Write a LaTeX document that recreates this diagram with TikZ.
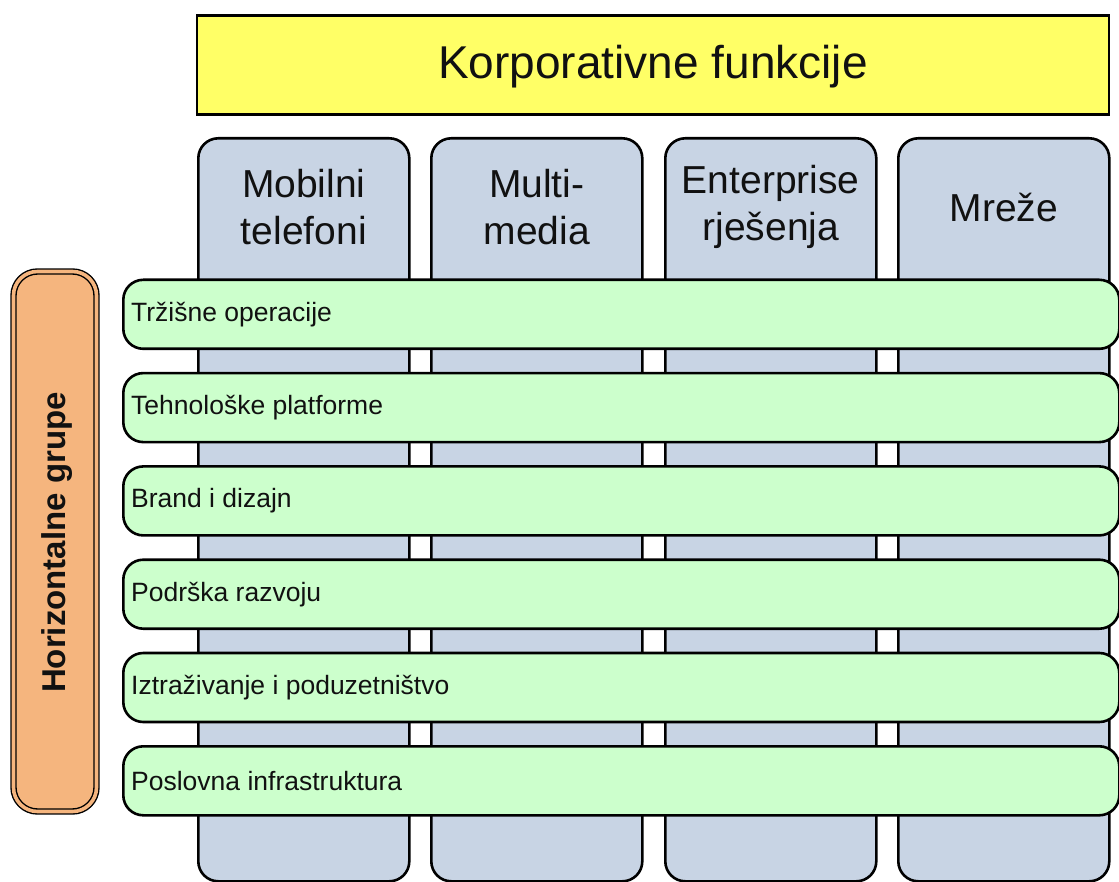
\documentclass[tikz,border=0pt]{standalone}
\usepackage{fontspec}
\setmainfont{Liberation Sans}
\definecolor{ttlyellow}{HTML}{FFFF66}
\definecolor{colblue}{HTML}{C8D4E4}
\definecolor{bargreen}{HTML}{CCFFCC}
\definecolor{grporange}{HTML}{F5B57E}
\definecolor{txtgray}{HTML}{111111}
\begin{document}
\begin{tikzpicture}[x=1pt,y=-1pt,
  titlebox/.style={draw=black, line width=2.6pt, fill=ttlyellow, minimum width=912pt, minimum height=99pt, inner sep=0pt},
  colbox/.style={draw=black, line width=2.6pt, fill=colblue, rounded corners=20pt, minimum width=211pt, minimum height=743pt, anchor=north west, inner sep=0pt},
  coltext/.style={align=center, text=txtgray, font=\fontsize{39}{47}\selectfont, inner sep=0pt},
  barbox/.style={draw=black, line width=2.6pt, fill=bargreen, rounded corners=20pt, minimum width=996pt, minimum height=69pt, anchor=north west, inner sep=0pt},
  bartext/.style={anchor=west, text=txtgray, font=\fontsize{26.5}{30}\selectfont, inner sep=0pt},
  grpbox/.style={draw=black, line width=1.4pt, double=grporange, double distance=3.6pt, fill=grporange, rounded corners=24pt, minimum width=83pt, minimum height=540pt, inner sep=0pt}
]
\useasboundingbox (0,0) rectangle (1119,882);
% title
\node[titlebox] (title) at (653,65) {};
\node[text=txtgray, font=\fontsize{46}{50}\selectfont, inner sep=0pt] (titletext) at ([yshift=-2pt]title.center) {Korporativne funkcije};
% columns
\node[colbox] (c1) at (197,137) {};
\node[colbox] (c2) at (430,137) {};
\node[colbox] (c3) at (664,137) {};
\node[colbox] (c4) at (897,137) {};
\node[coltext] (t1) at ([yshift=-70pt]c1.north) {Mobilni\\telefoni};
\node[coltext] (t2) at ([yshift=-70pt]c2.north) {Multi-\\media};
\node[coltext] (t3) at ([yshift=-70pt]c3.north) {Enterprise\\rješenja};
\node[coltext] (t4) at ([yshift=-70pt]c4.north) {Mreže};
% bars
\node[barbox] (b1) at (122,278.5) {};
\node[barbox] (b2) at (122,371.8) {};
\node[barbox] (b3) at (122,465.1) {};
\node[barbox] (b4) at (122,558.4) {};
\node[barbox] (b5) at (122,651.7) {};
\node[barbox] (b6) at (122,745) {};
\node[bartext] (l1) at ([xshift=9pt]b1.west) {Tržišne operacije};
\node[bartext] (l2) at ([xshift=9pt]b2.west) {Tehnološke platforme};
\node[bartext] (l3) at ([xshift=9pt]b3.west) {Brand i dizajn};
\node[bartext] (l4) at ([xshift=9pt]b4.west) {Podrška razvoju};
\node[bartext] (l5) at ([xshift=9pt]b5.west) {Iztraživanje i poduzetništvo};
\node[bartext] (l6) at ([xshift=9pt]b6.west) {Poslovna infrastruktura};
% horizontal group box
\node[grpbox] (grp) at (55,541.5) {};
\node[rotate=90, text=txtgray, font=\bfseries\fontsize{33}{38}\selectfont, inner sep=0pt] (grptext) at (57,542.5) {Horizontalne grupe};
\end{tikzpicture}
\end{document}
